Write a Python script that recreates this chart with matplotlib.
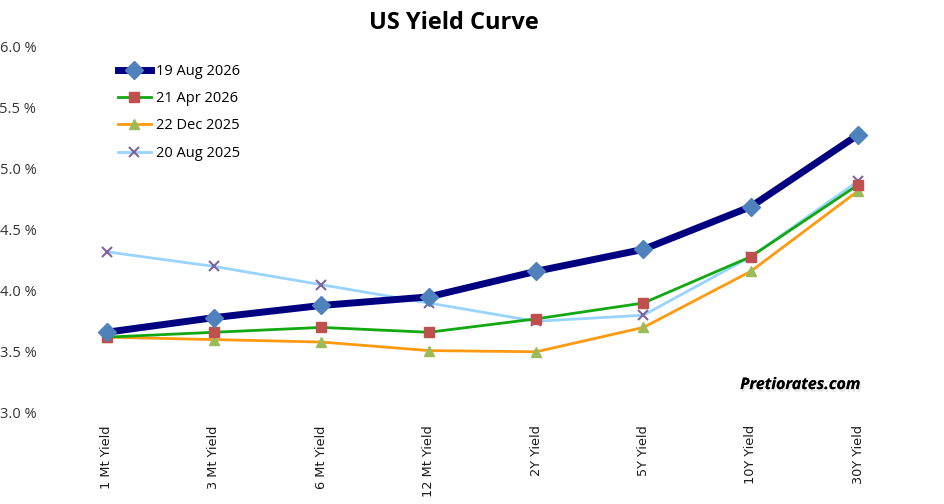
import matplotlib.pyplot as plt
import matplotlib.patheffects as pe
from matplotlib.ticker import FuncFormatter

# maturities on the x axis
maturities = ['1 Mt Yield', '3 Mt Yield', '6 Mt Yield', '12 Mt Yield',
              '2Y Yield', '5Y Yield', '10Y Yield', '30Y Yield']

# yields in percent
aug_2026 = [3.66, 3.78, 3.88, 3.95, 4.16, 4.34, 4.69, 5.28]
apr_2026 = [3.62, 3.66, 3.70, 3.66, 3.77, 3.90, 4.28, 4.87]
dec_2025 = [3.62, 3.60, 3.58, 3.51, 3.50, 3.70, 4.16, 4.82]
aug_2025 = [4.32, 4.20, 4.05, 3.90, 3.75, 3.80, 4.28, 4.90]

labels = ['19 Aug 2026', '21 Apr 2026', '22 Dec 2025', '20 Aug 2025']

fig = plt.figure(figsize=(9.45, 5.04), dpi=100)
ax = fig.add_axes([0.056, 0.181, 0.909, 0.726])

x = range(len(maturities))
ax.plot(x, aug_2026, color='#000080', lw=5, marker='D', ms=9,
        mfc='#4F81BD', mec='#4F81BD', label=labels[0], zorder=5)
ax.plot(x, apr_2026, color='#12A812', lw=2, marker='s', ms=7,
        mfc='#C0504D', mec='#C0504D', label=labels[1], zorder=4)
ax.plot(x, dec_2025, color='#FF9A10', lw=2, marker='^', ms=7,
        mfc='#9BBB59', mec='#9BBB59', label=labels[2], zorder=3)
ax.plot(x, aug_2025, color='#99D4FF', lw=2, marker='x', ms=7, mew=1.5,
        mfc='#8064A2', mec='#8064A2', label=labels[3], zorder=2)

ax.set_xlim(-0.5, len(maturities) - 0.5)
ax.set_ylim(3.0, 6.0)
ax.set_yticks([3.0, 3.5, 4.0, 4.5, 5.0, 5.5, 6.0])
ax.yaxis.set_major_formatter(FuncFormatter(lambda v, p: f'{v:.1f} %'))
ax.set_xticks(list(x))
ax.set_xticklabels(maturities, rotation=90, fontsize=9.3, fontweight='normal',
                   family='DejaVu Sans', color='#1a1a1a')
for t in ax.get_yticklabels():
    t.set_fontsize(10.5)
    t.set_family('Open Sans')
    t.set_color('#333333')
ax.tick_params(length=0, axis='both')
ax.tick_params(axis='y', pad=12)
ax.tick_params(axis='x', pad=9)
for s in ax.spines.values():
    s.set_visible(False)

fig.text(0.48, 0.955, 'US Yield Curve', ha='center', va='center',
         fontsize=17, fontweight='bold', family='Open Sans')

leg = ax.legend(loc='upper left', bbox_to_anchor=(0.06, 0.99), frameon=False,
                handlelength=2.3, labelspacing=0.85, handletextpad=0.3,
                prop={'family': 'Open Sans', 'size': 10.5})

fig.text(0.847, 0.236, 'Pretiorates.com', ha='center', va='center',
         fontsize=11.5, fontweight='bold', style='italic', family='Open Sans',
         path_effects=[pe.withSimplePatchShadow(offset=(1, -2), alpha=0.2,
                                                shadow_rgbFace='#888888'),
                       pe.Normal()])

fig.savefig('out.png', dpi=100)
